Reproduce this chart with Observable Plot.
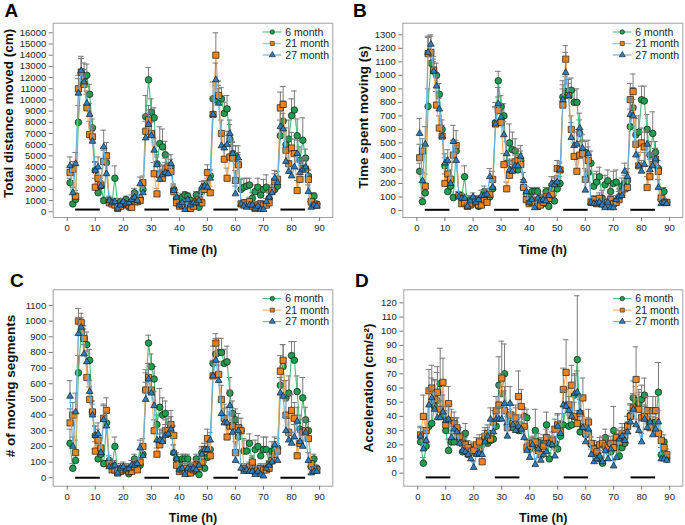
<!DOCTYPE html>
<html><head><meta charset="utf-8">
<script src="https://cdn.jsdelivr.net/npm/d3@7"></script>
<script src="https://cdn.jsdelivr.net/npm/@observablehq/plot@0.6"></script>
<style>
body{margin:0;background:#fff;}
#wrap{position:relative;width:685px;height:525px;font-family:"Liberation Sans",Arial,sans-serif;}
.panel{position:absolute;}
.panel svg{overflow:visible;}
</style></head><body><div id="wrap"></div>
<script>
// ---------- data ----------
const hours = d3.range(1, 90); // 1..89 h
const seriesNames = ["6 month", "21 month", "27 month"];
const darkStart = [3, 27.7, 52.3, 76.2];
const darkEnd = [11.8, 36.5, 61, 85];
const xTicks = [0,10,20,30,40,50,60,70,80,90];

// Panel A: Total distance moved (cm)
const distM6 = [2600,700,1100,8000,12400,12000,12200,10500,7500,3700,
1700,2300,1000,4400,1000,900,3000,700,900,600,
1100,400,700,1700,900,1200,2000,8500,11800,8900,
8400,4300,6100,5800,5100,3500,4000,2000,1200,1000,
1300,1500,1400,1000,700,1500,400,1800,2300,2500,
3200,10100,10000,10300,10100,8800,9200,6500,5200,5000,
4200,2000,2200,2300,2400,1200,1800,2200,1500,2000,
2200,1200,1800,2000,2300,6800,8100,6000,6500,8600,
9100,6800,4600,6400,4800,3200,900,1400,700];
const distM21 = [3500,3800,1400,11000,12500,11400,9300,6900,6700,2200,
3000,2400,4500,5000,800,700,600,300,500,700,
800,600,400,1200,900,1000,2600,7200,8200,7000,
3400,1600,3300,3000,3900,4000,3600,1800,800,500,
600,600,300,300,500,900,1100,800,2000,3500,
1700,8700,14000,10400,7000,4700,3000,4900,4800,2800,
4200,700,800,600,900,500,300,600,700,600,
600,800,1900,2700,2900,9300,9600,5500,4300,5700,
5200,1900,2900,3900,3800,2900,900,600,600];
const distM27 = [4100,1700,4300,10600,12600,11600,9700,8700,6300,3700,
4000,2300,5800,3400,1000,800,900,300,600,900,
700,800,1100,1300,1000,2500,1700,6600,7800,6800,
5500,4200,2900,3300,3500,3400,4300,1900,1300,600,
800,200,1100,600,800,800,1000,2200,2300,2200,
3000,8700,11800,9700,5900,5700,6000,7000,5200,1600,
4800,700,500,400,600,600,300,500,200,200,
900,1300,1700,3000,2600,7600,7400,4500,3600,3200,
4000,5200,3500,3800,4000,1800,400,600,500];
const distE6 = [400,200,300,1500,1300,1300,1000,900,800,700,
400,500,200,900,300,300,1100,300,300,200,
300,200,300,400,300,300,600,1900,1100,1200,
900,600,1500,1600,1200,700,700,500,300,300,
300,300,300,300,300,300,200,400,400,500,
600,1500,1300,1000,1000,1000,1200,1300,1000,900,
900,900,800,700,600,500,600,800,500,900,
1100,500,500,500,500,1400,1800,1500,1700,1500,
1700,1500,1200,2000,800,600,300,300,200];
const distE21 = [600,700,500,1200,1200,1000,1200,1200,1000,800,
1000,800,1000,1200,400,400,300,200,300,300,
300,300,200,400,300,400,600,1500,1300,1100,
1000,500,900,800,900,1100,800,500,300,300,
200,300,200,200,300,300,400,300,500,700,
600,1600,2000,1300,1200,1100,900,1100,1100,900,
1100,300,300,300,400,300,200,300,300,300,
300,400,500,700,700,1400,1600,1200,1300,1400,
1300,900,900,1000,900,800,300,300,200];
const distE27 = [800,500,1000,1300,1300,1100,1100,1000,900,800,
900,700,1500,1300,400,300,300,200,300,300,
300,300,400,400,400,600,500,1500,1300,1200,
1100,900,800,800,900,900,800,500,400,300,
300,200,300,300,300,300,300,500,500,500,
700,1600,1500,1300,1100,1100,1200,1200,1100,700,
1100,300,300,200,300,300,200,300,200,200,
300,400,400,700,600,1400,1400,1100,900,900,
1000,1200,900,900,900,600,200,300,200];

// Panel B: Time spent moving (s)
const timeM6 = [290,65,130,770,1090,1030,1000,860,600,330,
140,180,95,440,110,100,250,50,80,60,
80,30,60,140,80,100,160,650,960,770,
700,350,500,450,440,300,370,170,120,100,
140,140,140,90,50,140,30,160,70,160,
200,840,880,880,890,800,800,570,430,430,
280,350,180,210,250,90,190,220,140,200,
210,100,180,200,220,620,760,560,580,820,
810,600,410,570,430,310,80,140,60];
const timeM21 = [390,440,180,1160,1170,1040,780,610,550,200,
270,230,410,480,110,50,55,30,40,50,
60,40,40,80,60,120,230,640,740,650,
340,160,260,300,360,370,340,170,80,50,
60,70,30,40,60,100,90,120,200,310,
300,780,1120,850,600,400,290,410,420,230,
370,60,80,50,90,50,40,60,80,50,
60,80,130,160,170,820,880,490,330,500,
470,170,250,340,380,290,90,60,60];
const timeM27 = [570,220,490,1170,1230,1030,920,750,550,350,
370,200,510,370,100,90,90,30,70,100,
60,80,110,110,120,250,170,640,790,690,
560,420,300,290,330,330,400,220,140,60,
80,20,90,70,80,70,110,200,190,210,
300,820,1020,850,540,480,490,610,460,150,
420,60,50,50,60,40,20,60,20,20,
80,100,110,290,250,710,700,410,330,290,
340,490,300,330,380,170,50,60,50];
const timeE6 = [60,30,40,130,100,90,90,80,70,60,
40,50,20,80,30,30,80,30,30,20,
30,20,30,40,30,30,60,150,70,80,
90,70,140,130,90,70,70,60,30,30,
30,30,30,30,30,30,20,40,40,40,
50,120,110,90,90,90,100,100,90,80,
80,90,90,80,70,60,70,80,60,90,
90,60,60,60,60,130,150,120,120,100,
110,110,100,160,80,60,30,30,20];
const timeE21 = [100,90,90,120,120,100,100,90,80,70,
80,70,110,110,30,30,30,20,30,30,
30,30,20,40,30,40,60,120,100,90,
80,50,80,70,80,90,80,60,30,30,
20,30,20,20,30,30,40,30,50,60,
50,120,100,90,100,100,90,100,100,80,
100,30,30,30,40,30,20,30,30,30,
30,40,50,60,60,120,130,100,100,110,
110,80,80,90,80,80,30,30,20];
const timeE27 = [110,60,130,120,70,70,80,80,80,70,
80,60,120,110,40,30,30,20,30,30,
30,30,40,40,40,60,50,130,120,100,
100,90,80,70,80,80,80,60,40,30,
30,20,30,30,30,30,30,50,50,50,
60,110,150,120,110,100,110,110,100,60,
100,30,30,20,30,30,20,30,20,20,
30,40,40,60,60,120,120,100,80,80,
90,100,80,80,80,60,20,30,20];

// Panel C: # of moving segments
const segM6 = [220,60,110,670,930,890,850,750,420,270,
120,150,90,350,110,80,200,40,60,50,
60,25,50,120,60,80,150,560,860,710,
630,340,450,400,410,280,330,160,120,90,
120,120,120,70,40,120,20,160,60,130,
180,730,790,800,800,730,740,540,410,370,
260,300,170,170,220,80,180,200,140,180,
180,90,170,180,190,590,710,510,540,780,
750,550,310,510,370,300,70,120,60];
const segM21 = [350,400,160,1000,990,890,640,500,420,170,
240,190,380,430,90,50,50,30,40,50,
50,40,40,70,50,100,200,560,640,560,
300,150,210,240,300,300,340,270,80,40,
50,60,30,30,50,80,70,100,180,250,
140,650,860,660,500,380,260,330,330,160,
320,300,60,50,70,100,40,50,60,50,
50,60,110,150,170,680,750,400,290,430,
380,140,220,290,300,250,90,50,50];
const segM27 = [520,200,420,920,960,790,740,550,400,270,
280,160,370,330,70,70,80,30,60,70,
50,60,80,80,90,190,140,500,630,540,
460,240,240,230,270,280,310,160,120,50,
60,20,60,50,60,50,80,150,180,180,
240,650,750,620,410,350,350,460,290,110,
300,60,40,50,40,40,20,40,20,10,
60,80,100,210,110,540,520,300,240,220,
260,360,230,200,290,110,30,40,40];
const segE6 = [90,30,40,110,90,80,80,70,70,60,
40,50,20,80,30,30,60,30,30,20,
30,20,30,30,30,30,50,130,50,80,
80,60,120,110,80,60,60,50,30,30,
30,30,30,30,30,30,20,40,40,40,
50,110,100,90,90,90,100,100,80,70,
70,80,80,70,60,60,60,70,60,80,
80,60,60,50,60,110,140,110,110,90,
120,100,90,130,80,60,30,30,20];
const segE21 = [90,80,80,80,60,60,90,80,70,60,
70,60,80,80,30,30,30,20,30,30,
30,30,20,30,30,30,50,110,90,80,
70,40,70,60,70,80,90,60,30,30,
20,30,20,20,30,30,30,30,40,60,
50,100,60,80,90,90,80,90,90,70,
90,30,30,30,30,30,20,30,30,30,
30,30,40,60,50,100,100,90,90,100,
100,70,70,80,80,70,30,30,20];
const segE27 = [100,60,120,100,60,60,70,70,70,60,
70,50,100,90,30,30,30,20,30,30,
30,30,30,30,30,50,40,110,100,90,
90,80,70,60,70,70,80,50,40,30,
30,20,30,30,30,30,30,40,40,50,
50,90,120,100,100,90,100,100,80,50,
80,30,30,20,30,30,20,30,20,20,
30,30,40,50,50,100,100,90,70,70,
80,90,70,70,70,50,20,30,20];

// Panel D: Acceleration (cm/s²)
const accM6 = [22,7,19,33,35,47,51,63,41,30,
16,22,22,31,24,15,28,13,17,15,
14,16,20,25,21,23,24,33,62,56,
70,34,37,32,38,30,30,40,39,17,
19,30,22,19,21,34,10,20,21,17,
26,34,48,33,34,55,80,29,33,27,
28,20,18,14,10,7,25,20,15,30,
18,12,18,21,34,41,53,51,49,52,
55,38,36,32,36,57,13,22,10];
const accM21 = [27,40,30,58,60,52,57,45,64,34,
49,37,35,32,26,21,20,18,15,16,
20,22,8,26,28,24,36,44,48,67,
44,32,41,35,39,54,47,33,18,19,
21,22,16,13,19,25,21,23,31,34,
29,59,71,48,62,40,35,42,53,28,
36,21,17,15,20,21,19,18,21,18,
25,22,28,26,33,40,46,66,45,39,
40,44,32,44,44,28,23,18,13];
const accM27 = [26,17,23,48,53,45,39,39,43,37,
38,25,31,29,21,16,15,13,10,4,
13,14,13,22,26,38,29,38,38,38,
49,26,49,34,30,33,31,25,16,11,
20,6,17,9,13,15,21,20,12,33,
28,48,47,44,40,56,57,43,32,22,
31,13,8,10,12,8,16,10,17,5,
11,24,26,23,29,36,45,34,30,22,
38,32,36,27,31,36,10,10,9];
const accE6 = [5,4,5,15,14,18,20,25,20,10,
8,6,6,8,5,5,7,5,5,5,
5,5,5,5,5,5,6,8,20,14,
21,8,8,8,8,6,6,6,6,5,
5,15,6,6,6,9,4,5,5,5,
6,8,12,8,8,14,45,8,8,6,
7,5,5,5,4,4,6,6,5,17,
6,5,5,6,6,8,12,10,10,10,
12,8,8,8,8,21,5,5,4];
const accE21 = [6,15,8,15,16,14,18,12,17,10,
12,8,8,7,6,5,5,5,5,5,
5,5,4,6,6,6,8,10,14,26,
14,8,9,8,9,18,12,8,5,5,
5,6,5,5,5,6,5,6,7,8,
8,15,23,12,14,10,9,10,14,7,
9,5,5,5,5,5,5,5,5,5,
6,6,7,6,7,8,10,23,12,8,
8,10,8,10,10,8,6,5,4];
const accE27 = [6,6,7,12,14,12,14,12,12,10,
10,8,8,7,6,5,5,5,5,4,
5,5,5,6,6,8,7,8,9,9,
12,7,12,8,7,8,8,7,5,4,
5,4,5,4,5,5,5,5,5,8,
7,10,12,10,10,14,15,11,8,6,
8,4,4,4,4,4,5,4,5,4,
4,6,6,6,7,8,10,9,8,6,
9,8,8,7,8,8,4,4,4];

// ---------- styles ----------
const markFill = ["#1f9e4f", "#ee8420", "#2c7fc0"];
const lineCol = ["#4cbc78", "#f6ad68", "#63aedc"];
const symbols = ["circle", "square", "triangle"];
const symR = [3.3, 3.5, 2.5];

const panels = [
  {letter:"A", left:0, top:0, width:342, height:262, ml:52.7, mr:9.7, mt:22.7, mb:45,
   yDomain:[-510,16860], yTicks:d3.range(0,16001,1000), ylabel:"Total distance moved (cm)",
   means:[distM6,distM21,distM27], errs:[distE6,distE21,distE27], barY:200, ylDx:-45, ylDy:-7, xlDy:32,
   lx:4.5, ly:16.5},
  {letter:"B", left:342, top:0, width:343, height:262, ml:60.3, mr:2.7, mt:22.7, mb:45,
   yDomain:[-52,1386], yTicks:d3.range(0,1301,100), ylabel:"Time spent moving (s)",
   means:[timeM6,timeM21,timeM27], errs:[timeE6,timeE21,timeE27], barY:5, ylDx:-39, ylDy:-3, xlDy:32,
   lx:11, ly:16.5},
  {letter:"C", left:0, top:262, width:342, height:263, ml:52.7, mr:9.7, mt:27.3, mb:39.3,
   yDomain:[-54,1200], yTicks:d3.range(0,1101,100), ylabel:"# of moving segments",
   means:[segM6,segM21,segM27], errs:[segE6,segE21,segE27], barY:0, ylDx:-42.7, ylDy:-2, xlDy:31.3,
   lx:10, ly:25},
  {letter:"D", left:342, top:262, width:343, height:263, ml:61.3, mr:2.7, mt:27.3, mb:39.3,
   yDomain:[-9.2,129.2], yTicks:d3.range(0,121,10), ylabel:"Acceleration (cm/s²)",
   means:[accM6,accM21,accM27], errs:[accE6,accE21,accE27], barY:-3, ylDx:-35, ylDy:0, xlDy:31.3,
   lx:13, ly:25}
];

const wrap = document.getElementById("wrap");
const darkRows = darkStart.map((s, i) => ({x1: s, x2: darkEnd[i]}));

for (const p of panels) {
  const marks = [];
  marks.push(Plot.frame({stroke: "#a0a0a0"}));
  marks.push(Plot.axisX({ticks: xTicks, tickSize: 4, tickPadding: 3, label: null, tickFormat: "d", stroke: "#777", fill: "#222"}));
  marks.push(Plot.axisY({ticks: p.yTicks, tickSize: 4, tickPadding: 3, label: null, tickFormat: "d", stroke: "#777", fill: "#222"}));
  marks.push(Plot.ruleY(darkRows, {y: () => p.barY, x1: "x1", x2: "x2", stroke: "#000", strokeWidth: 2}));
  for (let s = 0; s < 3; s++) {
    const rows = hours.map((h, j) => ({t: h, v: p.means[s][j], e: p.errs[s][j]}))
      .filter(d => d.v != null);
    marks.push(Plot.ruleX(rows, {x: "t", y1: "v", y2: d => d.v + d.e, stroke: "#7a7a7a", strokeWidth: 1}));
    marks.push(Plot.ruleY(rows, {y: d => d.v + d.e, x1: d => d.t - 1, x2: d => d.t + 1, stroke: "#7a7a7a", strokeWidth: 1}));
    marks.push(Plot.line(rows, {x: "t", y: "v", stroke: lineCol[s], strokeWidth: 1.1}));
    marks.push(Plot.dot(rows, {x: "t", y: "v", symbol: symbols[s], r: symR[s], fill: markFill[s], stroke: "#1a1a1a", strokeWidth: 0.7}));
  }
  marks.push(Plot.text([p.ylabel], {frameAnchor: "left", textAnchor: "middle", lineAnchor: "middle", dx: p.ylDx, dy: p.ylDy, rotate: -90, fontWeight: "bold", fontSize: 13.5, fill: "#111"}));
  marks.push(Plot.text(["Time (h)"], {frameAnchor: "bottom", textAnchor: "middle", lineAnchor: "middle", dy: p.xlDy, fontWeight: "bold", fontSize: 12.5, fill: "#111"}));

  const chart = Plot.plot({
    width: p.width, height: p.height,
    marginLeft: p.ml, marginRight: p.mr, marginTop: p.mt, marginBottom: p.mb,
    x: {domain: [-5, 94.7]},
    y: {domain: p.yDomain},
    style: {fontFamily: "'Liberation Sans', Arial, sans-serif", fontSize: "9.5px", background: "transparent", color: "#222"},
    marks
  });
  const div = document.createElement("div");
  div.className = "panel";
  div.style.left = p.left + "px";
  div.style.top = p.top + "px";
  div.appendChild(chart);
  wrap.appendChild(div);

  const svg = d3.select(chart);
  svg.append("text").attr("x", p.lx).attr("y", p.ly).attr("text-anchor", "start")
    .attr("font-size", 19).attr("font-weight", "bold").attr("fill", "#000")
    .attr("font-family", "'Liberation Sans', Arial, sans-serif").text(p.letter);

  // legend
  const fr = p.width - p.mr;
  const lg = svg.append("g").attr("font-family", "'Liberation Sans', Arial, sans-serif").attr("text-anchor", "start");
  const symTypes = [d3.symbolCircle, d3.symbolSquare, d3.symbolTriangle];
  seriesNames.forEach((name, s) => {
    const y = p.mt + 9.3 + s * 11.5;
    lg.append("line").attr("x1", fr - 69.5).attr("x2", fr - 51).attr("y1", y).attr("y2", y)
      .attr("stroke", lineCol[s]).attr("stroke-width", 1.1);
    lg.append("path").attr("d", d3.symbol(symTypes[s], 16)())
      .attr("transform", `translate(${fr - 60},${y})`)
      .attr("fill", markFill[s]).attr("stroke", "#1a1a1a").attr("stroke-width", 0.6);
    lg.append("text").attr("x", fr - 47).attr("y", y).attr("dy", "0.35em").attr("text-anchor", "start")
      .attr("font-size", 10.5).attr("fill", "#222").text(name);
  });
}
</script></body></html>
